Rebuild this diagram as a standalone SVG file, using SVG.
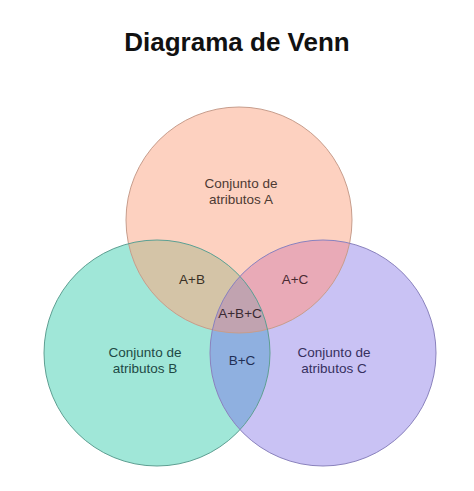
<svg xmlns="http://www.w3.org/2000/svg" width="474" height="491" viewBox="0 0 474 491">
  <style>
    .lbl { font-family: "Liberation Sans", Arial, sans-serif; font-size: 13.5px; text-anchor: middle; }
    .title { font-family: "Liberation Sans", Arial, sans-serif; font-size: 26px; font-weight: bold; text-anchor: middle; fill: #111; }
    .edge { fill: none; stroke-width: 1; }
  </style>
  <defs>
    <clipPath id="clipA"><circle cx="239" cy="220" r="113"/></clipPath>
    <clipPath id="clipB"><circle cx="157" cy="353" r="113"/></clipPath>
    <clipPath id="clipC"><circle cx="323" cy="353" r="113"/></clipPath>
  </defs>
  <rect width="474" height="491" fill="#ffffff"/>
  <text class="title" x="237" y="51">Diagrama de Venn</text>

  <g id="setA">
    <circle cx="239" cy="220" r="113" fill="#fdd1c0"/>
  </g>
  <g id="setB">
    <circle cx="157" cy="353" r="113" fill="#a0e7d8"/>
  </g>
  <g id="setC">
    <circle cx="323" cy="353" r="113" fill="#c9c2f4"/>
  </g>
  <g id="intersectionAB">
    <circle cx="157" cy="353" r="113" fill="#d4c4a7" clip-path="url(#clipA)"/>
  </g>
  <g id="intersectionAC">
    <circle cx="323" cy="353" r="113" fill="#e9aab7" clip-path="url(#clipA)"/>
  </g>
  <g id="intersectionBC">
    <circle cx="323" cy="353" r="113" fill="#8fb0e0" clip-path="url(#clipB)"/>
  </g>
  <g id="intersectionABC">
    <g clip-path="url(#clipA)">
      <circle cx="323" cy="353" r="113" fill="#c1a3b0" clip-path="url(#clipB)"/>
    </g>
  </g>
  <g id="outlines">
    <circle class="edge" cx="239" cy="220" r="113" stroke="#c79d8c"/>
    <circle class="edge" cx="157" cy="353" r="113" stroke="#5e9f92"/>
    <circle class="edge" cx="323" cy="353" r="113" stroke="#8a82bd"/>
  </g>
  <g id="labels">
    <text class="lbl" x="241" y="188" fill="#4d3a33">Conjunto de</text>
    <text class="lbl" x="241" y="204" fill="#4d3a33">atributos A</text>
    <text class="lbl" x="145" y="357" fill="#1e4a45">Conjunto de</text>
    <text class="lbl" x="145" y="373" fill="#1e4a45">atributos B</text>
    <text class="lbl" x="334" y="357" fill="#36305e">Conjunto de</text>
    <text class="lbl" x="334" y="373" fill="#36305e">atributos C</text>
    <text class="lbl" x="192" y="284" fill="#3a3026">A+B</text>
    <text class="lbl" x="295" y="284" fill="#4a2a33">A+C</text>
    <text class="lbl" x="240" y="318" fill="#3a2a33">A+B+C</text>
    <text class="lbl" x="242" y="365" fill="#1f2f55">B+C</text>
  </g>
  <g id="connectors"/>
</svg>
